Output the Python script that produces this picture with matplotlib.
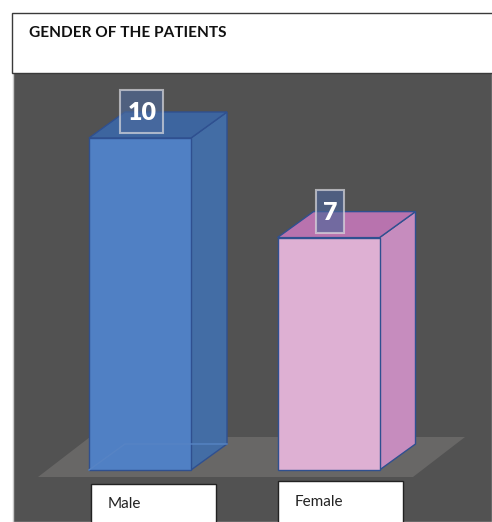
import matplotlib
matplotlib.use('Agg')
from matplotlib import pyplot as plt
from matplotlib.patches import Polygon, Rectangle

categories = ['Male', 'Female']
values = [10, 7]
title = 'GENDER OF THE PATIENTS'

front_colors = ['#5080c4', '#deb0d3']
side_colors = ['#436da5', '#c68cbe']
top_colors = ['#3d659f', '#b873ae']
label_colors = [(0.30, 0.42, 0.62, 0.6), (0.30, 0.40, 0.60, 0.65)]
edge = '#2f5090'

W, H = 492, 522
plt.rcParams['font.family'] = ['Lato', 'DejaVu Sans']

fig = plt.figure(figsize=(W / 100, H / 100), dpi=100)

# page furniture, in pixels
bg = fig.add_axes([0, 0, 1, 1])
bg.set_xlim(0, W)
bg.set_ylim(H, 0)
bg.axis('off')
bg.add_patch(Rectangle((13, 60), W - 13, H - 60, fc='#525252', ec='#c9c9c9', lw=1))
bg.add_patch(Polygon([(38, 477), (413, 477), (465, 437), (90, 437)], fc='#686766', ec='none'))
bg.add_patch(Rectangle((12, 13), W, 60, fc='white', ec='#3a3a3a', lw=1))
bg.text(29, 33, title, fontsize=11.1, fontweight='bold', va='center', color='#111111')

# the bars, value 0 sits at pixel 470, one unit is 33.2 px
ax = fig.add_axes([0, 0, 1, 1], facecolor='none')
ax.set_xlim(-140 / 188.5, (W - 140) / 188.5)
ax.set_ylim(-(H - 470) / 33.2, 470 / 33.2)
ax.axis('off')

xs = list(range(len(categories)))
width = 102 / 188.5
dx = 36 / 188.5
dy = 26 / 33.2

for x, v, fc, sc, tc in zip(xs, values, front_colors, side_colors, top_colors):
    l, r = x - width / 2, x + width / 2
    ax.add_patch(Polygon([(r, 0), (r + dx, dy), (r + dx, v + dy), (r, v)], fc=sc, ec=edge, lw=1, zorder=2))
    ax.add_patch(Polygon([(l, v), (r, v), (r + dx, v + dy), (l + dx, v + dy)], fc=tc, ec=edge, lw=1, zorder=2))

ax.bar(xs, values, width, color=front_colors, edgecolor=edge, linewidth=1, zorder=3)

# faint back edges seen through the blue bar
l = xs[0] - width / 2
ax.plot([l, l + dx, l + dx + width], [0, dy, dy], color='#5784c4', lw=1, zorder=4)

# value labels
label_w = [43, 28]
for x, v, lw_, lc in zip(xs, values, label_w, label_colors):
    ax.annotate(str(v), (x + 0.01, v + 0.42), xytext=(0, 0), textcoords='offset points',
                ha='center', va='bottom', color='white', fontsize=18, fontweight='heavy', zorder=6)
    px, py = ax.transData.transform((x + 0.01, v))
    ypix = H - py
    rect = Rectangle((-lw_ / 2 + 140 + 188.5 * x + 1.5, ypix - 48), lw_, 43, fc=lc, ec=(0.85, 0.85, 0.87, 0.7),
                     lw=1.5, zorder=5, transform=bg.transData)
    ax.add_patch(rect)

# category boxes
box_x = [91, 278]
box_y = [484, 481]
text_x = [108, 295]
text_y = [504, 502]
for name, bx, by, tx, ty in zip(categories, box_x, box_y, text_x, text_y):
    bg.add_patch(Rectangle((bx, by), 125, H - by + 5, fc='white', ec='#222222', lw=1))
    bg.text(tx, ty, name, fontsize=11, va='center', color='#222222')

fig.savefig('out.png', dpi=100)
